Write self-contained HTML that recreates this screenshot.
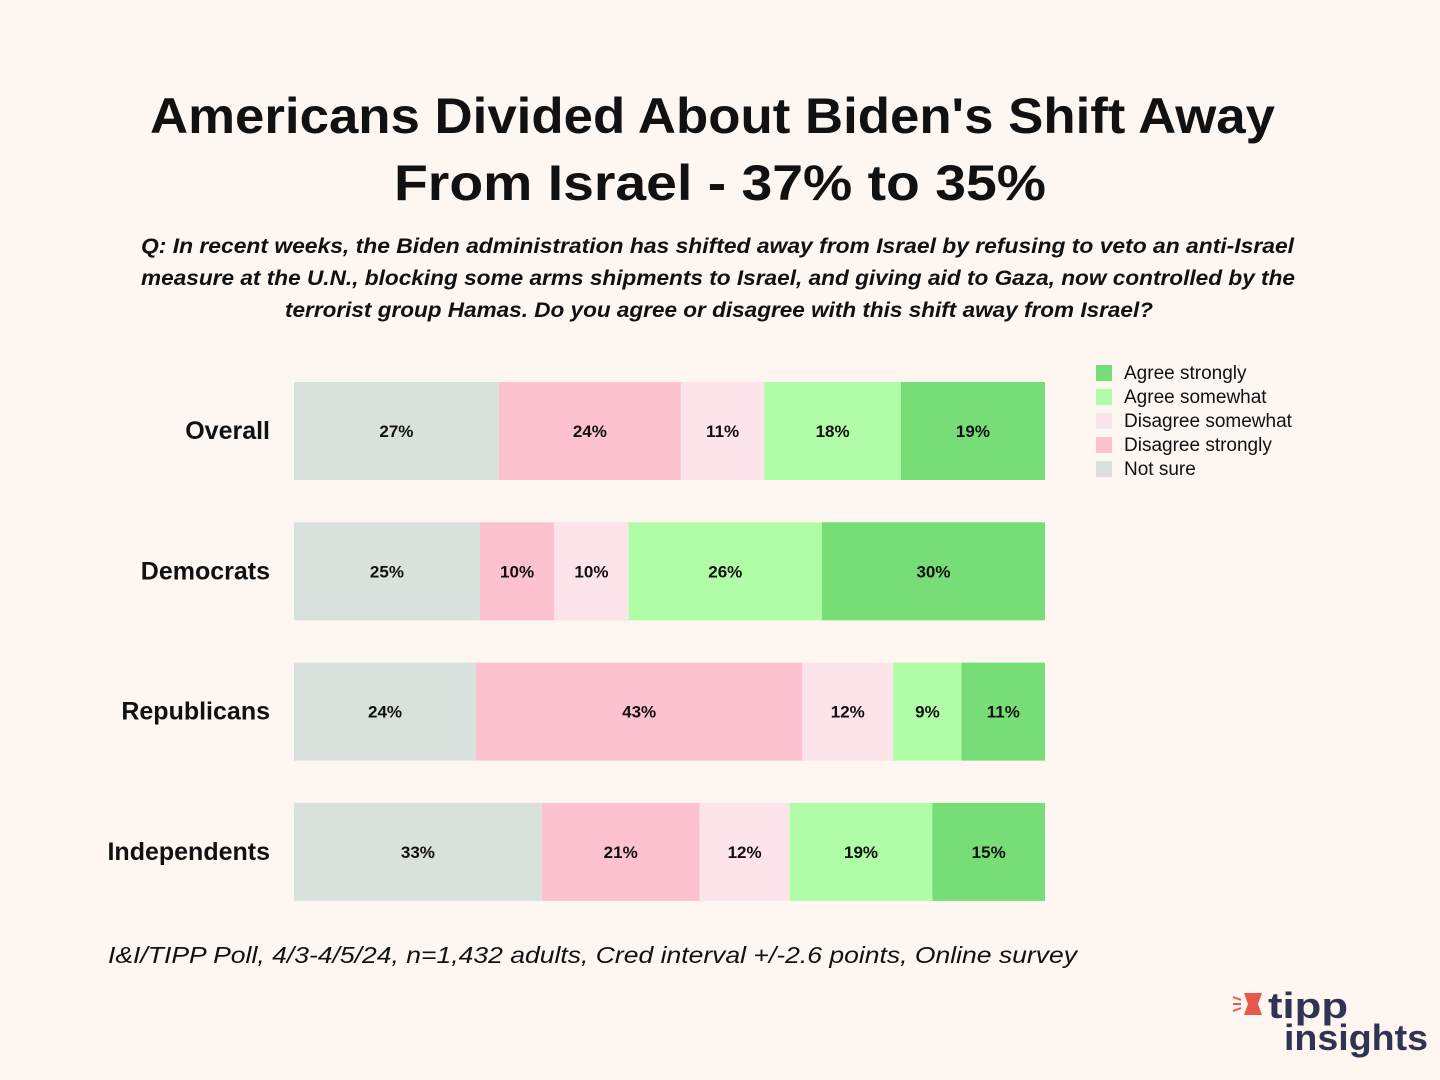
<!DOCTYPE html>
<html><head><meta charset="utf-8">
<style>
body{margin:0;background:#fdf6f1;}
svg{display:block;font-family:"Liberation Sans",sans-serif;}
</style></head>
<body>
<svg id="c" width="1440" height="1080" viewBox="0 0 1440 1080">
<rect width="1440" height="1080" fill="#fdf6f1"/>
<g font-size="50" font-weight="bold" fill="#111" lengthAdjust="spacingAndGlyphs">
<text x="150" y="133" textLength="1125" lengthAdjust="spacingAndGlyphs">Americans Divided About Biden's Shift Away</text>
<text x="394" y="200" textLength="652" lengthAdjust="spacingAndGlyphs">From Israel - 37% to 35%</text>
</g>
<g font-size="21" font-style="italic" font-weight="bold" fill="#111">
<text x="141" y="253" textLength="1153" lengthAdjust="spacingAndGlyphs">Q: In recent weeks, the Biden administration has shifted away from Israel by refusing to veto an anti-Israel</text>
<text x="141" y="285" textLength="1154" lengthAdjust="spacingAndGlyphs">measure at the U.N., blocking some arms shipments to Israel, and giving aid to Gaza, now controlled by the</text>
<text x="285" y="317" textLength="868" lengthAdjust="spacingAndGlyphs">terrorist group Hamas. Do you agree or disagree with this shift away from Israel?</text>
</g>
<g id="bars"></g>
<g id="legend"></g>
<text x="108" y="963" font-size="23" font-style="italic" fill="#111" textLength="969" lengthAdjust="spacingAndGlyphs">I&amp;I/TIPP Poll, 4/3-4/5/24, n=1,432 adults, Cred interval +/-2.6 points, Online survey</text>
<g>
<polygon points="1244,993 1262,993 1258,1004 1262,1015 1244,1015 1248,1004" fill="#e8584a"/>
<line x1="1233" y1="997" x2="1241" y2="1000" stroke="#e8584a" stroke-width="2"/>
<line x1="1233" y1="1004" x2="1241" y2="1004" stroke="#e8584a" stroke-width="2"/>
<line x1="1233" y1="1011" x2="1241" y2="1008" stroke="#e8584a" stroke-width="2"/>
<text x="1268" y="1018" font-size="36" font-weight="bold" fill="#2f3452" textLength="80" lengthAdjust="spacingAndGlyphs">tipp</text>
<text x="1284" y="1050" font-size="36" font-weight="bold" fill="#2f3452" textLength="144" lengthAdjust="spacingAndGlyphs">insights</text>
</g>
</svg>
<script>
const categories=["Overall","Democrats","Republicans","Independents"];
const notSure=[27,25,24,33];
const disagreeStrongly=[24,10,43,21];
const disagreeSomewhat=[11,10,12,12];
const agreeSomewhat=[18,26,9,19];
const agreeStrongly=[19,30,11,15];
const seriesNames=["Not sure","Disagree strongly","Disagree somewhat","Agree somewhat","Agree strongly"];
const seriesData=[notSure,disagreeStrongly,disagreeSomewhat,agreeSomewhat,agreeStrongly];
const colors=["#d8e1db","#fdc2cf","#fde4ea","#b0fca7","#77dd77"];
const NS="http://www.w3.org/2000/svg";
const x0=294,x1=1045,yTop=382,rowStep=140.3,barH=98;
const xScale=(v,total)=>(v/total)*(x1-x0);
const bars=document.getElementById('bars');
function mk(tag,attrs,parent){const e=document.createElementNS(NS,tag);for(const k in attrs)e.setAttribute(k,attrs[k]);parent.appendChild(e);return e;}
categories.forEach((cat,i)=>{
  const y=yTop+i*rowStep;
  const total=seriesData.reduce((s,a)=>s+a[i],0);
  const lab=mk('text',{x:270,y:y+barH/2+8,'font-size':25,'font-weight':'bold','text-anchor':'end',fill:'#111'},bars);
  lab.textContent=cat;
  
  
  let x=x0;
  seriesData.forEach((arr,j)=>{
    const w=xScale(arr[i],total);
    const r=mk('rect',{x:x,y:y,width:w,height:barH,fill:colors[j]},bars);
    
    
    const t=mk('text',{x:x+w/2,y:y+barH/2+6,'font-size':17,'font-weight':'bold','text-anchor':'middle',fill:'#111'},bars);
    t.textContent=arr[i]+'%';
    
    
    x+=w;
  });
});
const legend=document.getElementById('legend');
const legOrder=[4,3,2,1,0];
legOrder.forEach((j,k)=>{
  const y=365+k*24;
  const r=mk('rect',{x:1096,y:y,width:16,height:16,fill:colors[j]},legend);
  
  
  const t=mk('text',{x:1124,y:y+14,'font-size':19,fill:'#111'},legend);
  t.textContent=seriesNames[j];
  
  
});
</script>
</body></html>
